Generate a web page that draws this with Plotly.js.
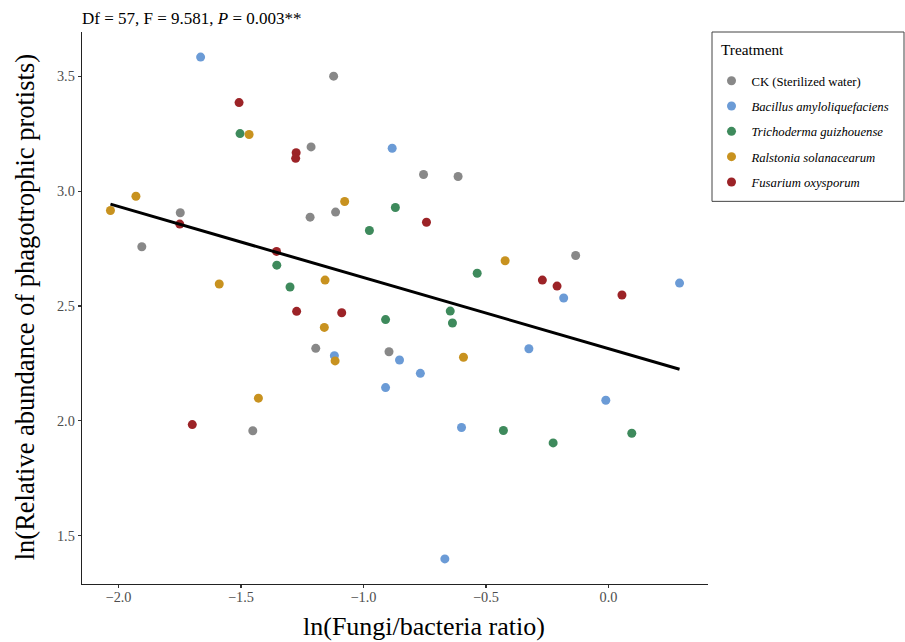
<!DOCTYPE html>
<html>
<head>
<meta charset="utf-8">
<script src="https://cdn.plot.ly/plotly-3.0.1.min.js"></script>
<style>html,body{margin:0;padding:0;background:#fff;}#chart{width:905px;height:642px;}</style>
</head>
<body>
<div id="chart"></div>
<script>
// ---- Data ----
var groupNames = ["CK (Sterilized water)", "<i>Bacillus amyloliquefaciens</i>", "<i>Trichoderma guizhouense</i>", "<i>Ralstonia solanacearum</i>", "<i>Fusarium oxysporum</i>"];
var groupColors = ["#888888", "#6b9bd6", "#3e8a5c", "#c8921f", "#9c2327"];

var ckX = [-1.122, -1.214, -1.748, -1.905, -1.218, -1.114, -1.195, -0.896, -1.452, -0.755, -0.614, -0.134];
var ckY = [3.501, 3.193, 2.906, 2.758, 2.887, 2.909, 2.316, 2.301, 1.957, 3.073, 3.064, 2.720];

var baX = [-1.665, -0.883, -1.119, -0.853, -0.910, -0.768, -0.325, -0.183, -0.011, -0.600, -0.668, 0.290];
var baY = [3.584, 3.187, 2.284, 2.265, 2.145, 2.207, 2.314, 2.535, 2.090, 1.971, 1.399, 2.600];

var tgX = [-1.504, -0.870, -0.976, -1.354, -1.300, -0.910, -0.646, -0.637, -0.536, -0.429, -0.226, 0.095];
var tgY = [3.251, 2.929, 2.829, 2.678, 2.583, 2.441, 2.478, 2.426, 2.643, 1.958, 1.904, 1.946];

var rsX = [-1.467, -1.929, -2.033, -1.077, -1.589, -1.157, -1.160, -1.116, -1.429, -0.592, -0.422];
var rsY = [3.247, 2.978, 2.916, 2.955, 2.596, 2.613, 2.407, 2.261, 2.099, 2.277, 2.697];

var foX = [-1.508, -1.275, -1.277, -1.750, -1.355, -1.273, -1.089, -1.699, -0.743, -0.270, -0.210, 0.055];
var foY = [3.386, 3.168, 3.143, 2.857, 2.738, 2.477, 2.471, 1.984, 2.865, 2.613, 2.587, 2.548];

var xTicks = [-2.0, -1.5, -1.0, -0.5, 0.0];
var yTicks = [1.5, 2.0, 2.5, 3.0, 3.5];
var statText = "Df = 57, F = 9.581, <i>P</i> = 0.003**";
var xTitle = "ln(Fungi/bacteria ratio)";
var yTitle = "ln(Relative abundance of phagotrophic protists)";
var legendTitle = "Treatment";

// ---- Build traces ----
var xs = [ckX, baX, tgX, rsX, foX];
var ys = [ckY, baY, tgY, rsY, foY];
var traces = [];
var allX = [], allY = [];
for (var g = 0; g < xs.length; g++) {
  allX = allX.concat(xs[g]); allY = allY.concat(ys[g]);
  traces.push({
    type: "scatter", mode: "markers", x: xs[g], y: ys[g], name: groupNames[g],
    legendgroup: "g" + g,
    marker: {color: groupColors[g], size: 9, line: {width: 0}},
    cliponaxis: false
  });
}
// Ordinary least-squares fit over all points
var n = allX.length, mx = 0, my = 0;
for (var i = 0; i < n; i++) { mx += allX[i]; my += allY[i]; }
mx /= n; my /= n;
var sxy = 0, sxx = 0;
for (var i = 0; i < n; i++) { sxy += (allX[i]-mx)*(allY[i]-my); sxx += (allX[i]-mx)*(allX[i]-mx); }
var slope = sxy / sxx, intercept = my - slope*mx;
var xmin = Math.min.apply(null, allX), xmax = Math.max.apply(null, allX);
traces.push({
  type: "scatter", mode: "lines", x: [xmin, xmax], y: [intercept + slope*xmin, intercept + slope*xmax],
  line: {color: "#000000", width: 3}, showlegend: false, hoverinfo: "skip"
});

var ymin = Math.min.apply(null, allY), ymax = Math.max.apply(null, allY);
var xpad = (xmax - xmin) * 0.05, ypad = (ymax - ymin) * 0.05;

// plot-area geometry in pixels (for placing decorations in paper coordinates)
var W = 905, H = 642, L = 82, R = 197, T = 32, B = 57.5;
var pw = W - L - R, ph = H - T - B;
function px(xp) { return (xp - L) / pw; }
function py(yp) { return (H - B - yp) / ph; }

var serif = "Liberation Serif, Times New Roman, serif";
var layout = {
  width: W, height: H,
  margin: {l: L, r: R, t: T, b: B, autoexpand: false},
  paper_bgcolor: "#ffffff", plot_bgcolor: "#ffffff",
  font: {family: serif, color: "#000000"},
  showlegend: true,
  xaxis: {
    range: [xmin - xpad, xmax + xpad], tickvals: xTicks, tickformat: ".1f",
    showgrid: false, zeroline: false, showline: true, linecolor: "#222222", linewidth: 1.3,
    ticks: "outside", ticklen: 3, tickwidth: 1.2, tickcolor: "#333333", ticklabelstandoff: -3,
    tickfont: {family: serif, size: 14.3, color: "#4d4d4d"}
  },
  yaxis: {
    range: [ymin - ypad, ymax + ypad], tickvals: yTicks, tickformat: ".1f",
    showgrid: false, zeroline: false, showline: true, linecolor: "#222222", linewidth: 1.3,
    ticks: "outside", ticklen: 3, tickwidth: 1.2, tickcolor: "#333333",
    tickfont: {family: serif, size: 14.3, color: "#4d4d4d"}
  },
  legend: {
    x: px(711.5), xanchor: "left", y: py(66), yanchor: "top",
    bgcolor: "rgba(0,0,0,0)", borderwidth: 0,
    font: {family: serif, size: 12.7, color: "#000000"},
    tracegroupgap: 5.8, traceorder: "grouped",
    itemwidth: 30
  },
  shapes: [{
    type: "rect", xref: "paper", yref: "paper",
    x0: px(712), x1: px(904), y0: py(201.5), y1: py(32),
    line: {color: "#444444", width: 1}, fillcolor: "rgba(0,0,0,0)", layer: "below"
  }],
  annotations: [
    {xref: "paper", yref: "paper", x: px(80), y: py(18), xanchor: "left", yanchor: "middle",
     showarrow: false, text: statText, font: {family: serif, size: 17, color: "#000000"}},
    {xref: "paper", yref: "paper", x: px(719), y: py(50), xanchor: "left", yanchor: "middle",
     showarrow: false, text: legendTitle, font: {family: serif, size: 15.3, color: "#000000"}},
    {xref: "paper", yref: "paper", x: px(424), y: py(627), xanchor: "center", yanchor: "middle",
     showarrow: false, text: xTitle, font: {family: serif, size: 26, color: "#000000"}},
    {xref: "paper", yref: "paper", x: px(25), y: py(307.5), xanchor: "center", yanchor: "middle",
     textangle: -90, showarrow: false, text: yTitle, font: {family: serif, size: 26.5, color: "#000000"}}
  ]
};

Plotly.newPlot("chart", traces, layout, {displayModeBar: false, staticPlot: true});
</script>
</body>
</html>
